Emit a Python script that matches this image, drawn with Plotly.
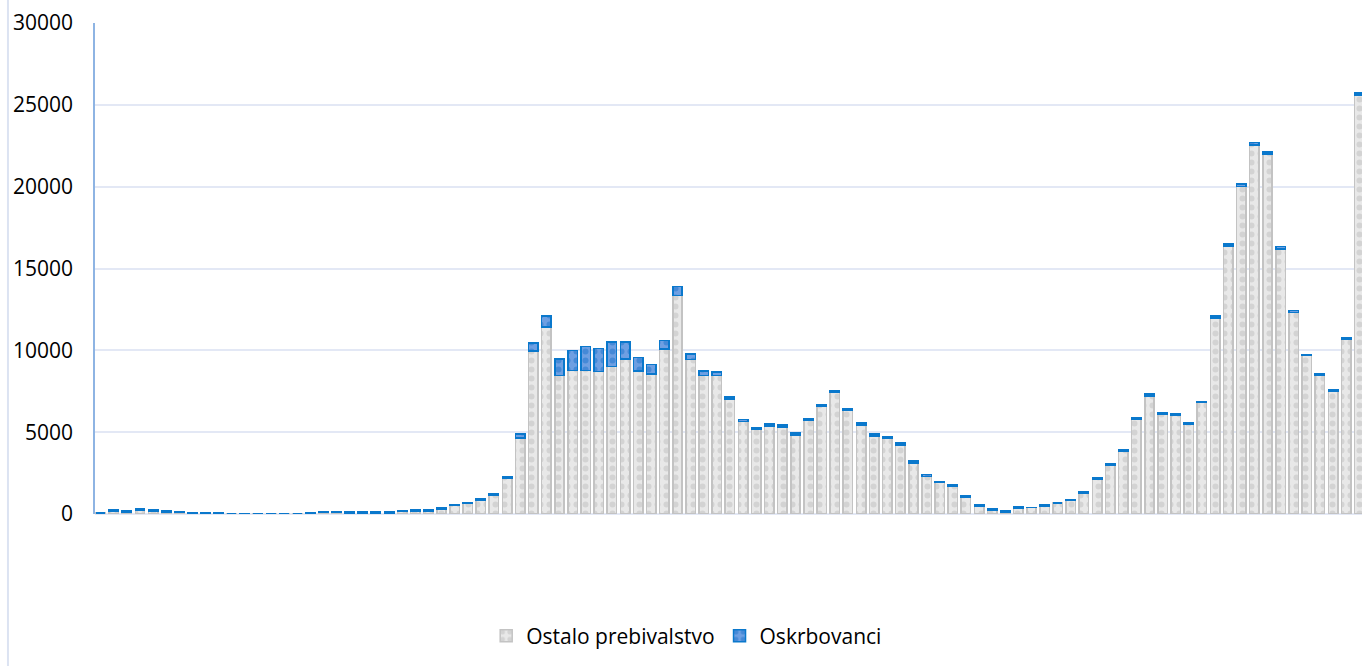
import plotly.graph_objects as go

# Weekly categories (no visible labels on the x axis)
weeks = [f"T{i+1}" for i in range(97)]

# Total heights of stacked bars
totals = [
    50, 250, 180, 320, 290, 190, 150, 90, 70, 60,
    40, 30, 30, 30, 30, 40, 80, 160, 160, 120,
    120, 120, 110, 200, 260, 250, 370, 570, 710, 950,
    1210, 2260, 4880, 10450, 12100, 9470, 9980, 10240, 10100, 10500,
    10500, 9550, 9140, 10590, 13900, 9780, 8740, 8680, 7140, 5770,
    5300, 5490, 5430, 4940, 5810, 6670, 7520, 6420, 5550, 4880,
    4710, 4330, 3230, 2400, 1990, 1790, 1100, 590, 300, 210,
    440, 400, 540, 670, 890, 1340, 2190, 3050, 3900, 5910,
    7320, 6200, 6140, 5570, 6870, 12110, 16500, 20160, 22700, 22130,
    16340, 12440, 9760, 8540, 7600, 10790, 25730,
]

# Oskrbovanci (blue, top segment)
oskrbovanci = [
    0, 70, 60, 100, 100, 70, 70, 50, 60, 50,
    0, 30, 0, 0, 0, 0, 10, 70, 70, 60,
    60, 60, 60, 60, 70, 60, 50, 40, 70, 80,
    60, 90, 240, 480, 670, 1000, 1220, 1480, 1400, 1500,
    1020, 810, 590, 500, 550, 350, 270, 210, 120, 120,
    100, 100, 100, 100, 100, 100, 100, 100, 100, 100,
    90, 100, 100, 100, 80, 80, 80, 100, 80, 80,
    90, 10, 80, 0, 80, 80, 80, 80, 80, 100,
    100, 100, 100, 80, 60, 120, 140, 140, 160, 140,
    140, 120, 80, 80, 80, 100, 140,
]

# Ostalo prebivalstvo (gray, bottom segment)
ostalo = [t - o for t, o in zip(totals, oskrbovanci)]

y_ticks = [0, 5000, 10000, 15000, 20000, 25000, 30000]

FONT = "Open Sans"

fig = go.Figure()
fig.add_trace(go.Bar(
    x=weeks, y=ostalo, name="Ostalo prebivalstvo",
    marker=dict(
        color="#E6E6E6",
        line=dict(color="#C3C3C3", width=1.5),
        pattern=dict(shape=".", fgcolor="#BDBDBD", bgcolor="#E8E8E8",
                     size=9, solidity=0.35, fillmode="overlay"),
    ),
))
fig.add_trace(go.Bar(
    x=weeks, y=oskrbovanci, name="Oskrbovanci",
    marker=dict(
        color="#5E95DE",
        line=dict(color="#0A78CC", width=1.5),
        pattern=dict(shape=".", fgcolor="#1C74CC", bgcolor="#6E9FE2",
                     size=9, solidity=0.35, fillmode="overlay"),
    ),
))

fig.update_layout(
    width=1362, height=666,
    barmode="stack", bargap=0.28,
    paper_bgcolor="white", plot_bgcolor="white",
    margin=dict(l=95, r=0, t=23, b=152),
    font=dict(family=FONT, size=21, color="#000000"),
    showlegend=True,
    legend=dict(orientation="h", x=0.467, xanchor="center", y=-0.2485, yanchor="middle",
                font=dict(family=FONT, size=21, color="#000000"),
                traceorder="normal", itemwidth=30),
    xaxis=dict(type="category", range=[-0.43, 96.21], showticklabels=False,
               showgrid=False, zeroline=False, showline=False, ticks=""),
    yaxis=dict(range=[0, 30000], tickvals=y_ticks, ticktext=[str(v) for v in y_ticks],
               showgrid=True, gridcolor="#E3E8F5", gridwidth=1.5,
               zeroline=True, zerolinecolor="#E3E8F5", zerolinewidth=1.5,
               showline=True, linecolor="#8EB4E3", linewidth=1.5,
               ticks="", ticklabelstandoff=16,
               tickfont=dict(family=FONT, size=21, color="#000000")),
    shapes=[dict(type="line", xref="paper", yref="paper",
                 x0=-0.0687, x1=-0.0687, y0=1.05, y1=-0.31,
                 line=dict(color="#DCE3F2", width=2))],
)

fig.write_html(
    "out.html",
    config={"displayModeBar": False},
    post_script="document.body.style.margin='0';document.body.style.overflow='hidden';",
)
